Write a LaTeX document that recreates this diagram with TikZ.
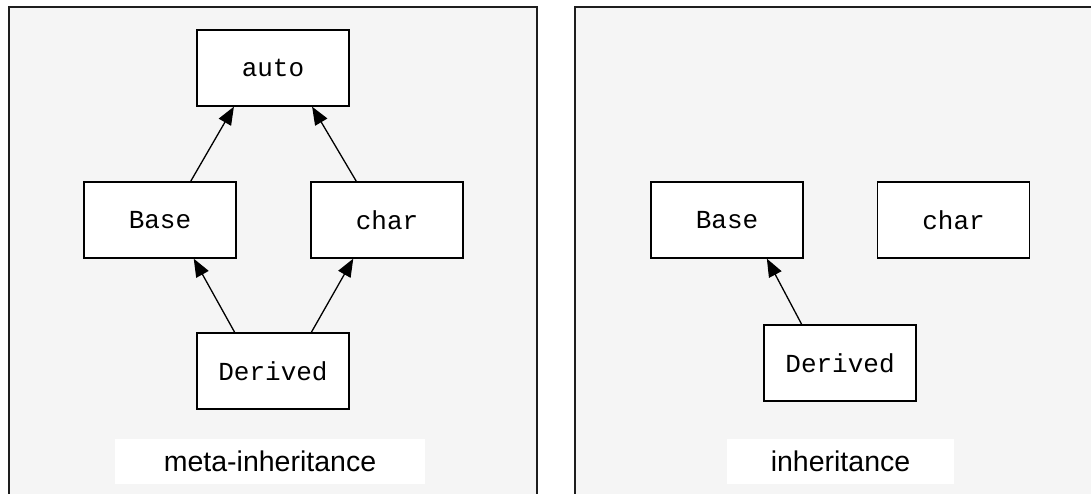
\documentclass[tikz,border=0pt]{standalone}
\usepackage{fontspec}
\setmainfont{Liberation Sans}
\newfontfamily\monof{Liberation Mono}
\usetikzlibrary{arrows.meta,calc}
\definecolor{panelgray}{HTML}{F5F5F5}
\definecolor{panelborder}{HTML}{1E1E1E}
\tikzset{
  panel/.style={fill=panelgray,draw=panelborder,line width=1.8pt},
  cls/.style={draw=black,fill=white,line width=1.3pt,minimum width=152pt,minimum height=76pt,inner sep=0pt,font=\monof\fontsize{26}{30}\selectfont},
  caption/.style={fill=white,draw=none,minimum height=45pt,inner sep=0pt,font=\fontsize{28.5}{32}\selectfont},
  arr/.style={line width=1.3pt,-{Triangle[length=18pt,width=14pt]}}
}
\begin{document}
\begin{tikzpicture}[x=1pt,y=-1pt]
\useasboundingbox (0,0) rectangle (1091,493);
\clip (0,0) rectangle (1091,493);
\fill[white] (0,0) rectangle (1091,493);
\draw[panel] (9,7) rectangle (537,510);
\draw[panel] (575,7) rectangle (1103,510);
% left panel
\node[cls] (auto) at (273,68) {auto};
\node[cls] (baseL) at (160,220) {Base};
\node[cls] (charL) at (387,220) {char};
\node[cls] (derL) at (273,371) {Derived};
\node[caption,minimum width=310pt] (capL) at (270,461.5) {meta-inheritance};
\draw[arr] ($(baseL.north west)!0.70!(baseL.north east)$) -- ($(auto.south west)!0.245!(auto.south east)$);
\draw[arr] ($(charL.north west)!0.30!(charL.north east)$) -- ($(auto.south west)!0.755!(auto.south east)$);
\draw[arr] ($(derL.north west)!0.25!(derL.north east)$) -- ($(baseL.south west)!0.72!(baseL.south east)$);
\draw[arr] ($(derL.north west)!0.75!(derL.north east)$) -- ($(charL.south west)!0.28!(charL.south east)$);
% right panel
\node[cls] (baseR) at (727,220) {Base};
\node[cls] (charR) at (953.5,220) {char};
\node[cls] (derR) at (840,363) {Derived};
\node[caption,minimum width=227pt] (capR) at (840.5,461.5) {inheritance};
\draw[arr] ($(derR.north west)!0.25!(derR.north east)$) -- ($(baseR.south west)!0.76!(baseR.south east)$);
\end{tikzpicture}
\end{document}
